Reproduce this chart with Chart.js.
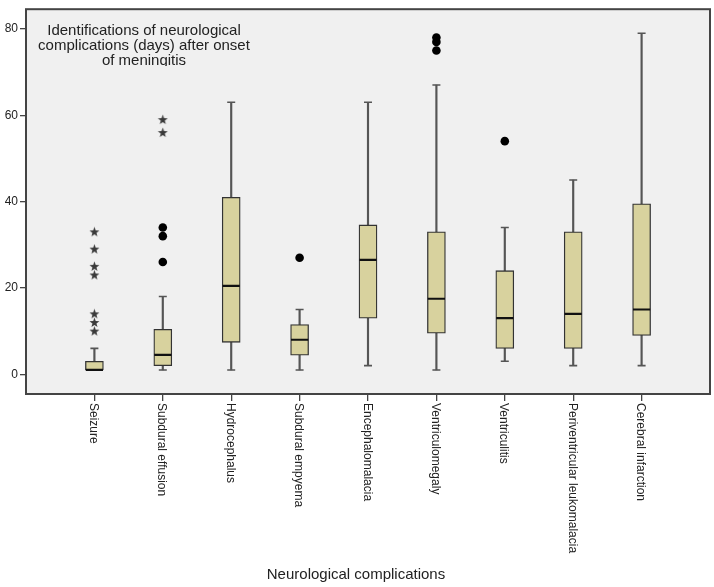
<!DOCTYPE html>
<html lang="en">
<head>
    <meta charset="UTF-8">
    <title>Neurological complications</title>
    <script src="https://cdn.jsdelivr.net/npm/chart.js"></script>
    <style>
        html, body { margin: 0; padding: 0; background: #fff; }
        #wrap { width: 714px; height: 587px; }
    </style>
</head>
<body>
    <div id="wrap"><canvas id="boxChart"></canvas></div>

    <script>
        // data (days)
        const categories = ['Seizure', 'Subdural effusion', 'Hydrocephalus', 'Subdural empyema', 'Encephalomalacia',
            'Ventriculomegaly', 'Ventriculitis', 'Periventricular leukomalacia', 'Cerebral infarction'];
        const whiskerLow = [1, 1, 1, 1, 2, 1, 3, 2, 2];
        const q1 = [1, 2, 7.4, 4.4, 13, 9.5, 6, 6, 9];
        const medians = [1, 4.5, 20.5, 8, 26.5, 17.5, 13, 14, 15];
        const q3 = [3, 10.4, 41, 11.5, 34.6, 33, 24, 33, 39.5];
        const whiskerHigh = [6, 18, 63, 15, 63, 67, 34, 45, 79];
        const outliers = [[], [26, 32, 34], [], [27], [], [75, 77, 78], [54], [], []];
        const extremes = [[10, 12, 14, 23, 25, 29, 33], [56, 59], [], [], [], [], [], [], []];
        const yTicks = [0, 20, 40, 60, 80];
        const titleLines = ['Identifications of neurological', 'complications (days) after onset', 'of meningitis'];
        const axisTitle = 'Neurological complications';

        const FONT = "'Liberation Sans', Arial, sans-serif";

        // small 5 point star used for extreme values
        const star = document.createElement('canvas');
        star.width = 11; star.height = 11;
        (function () {
            const c = star.getContext('2d');
            c.fillStyle = '#3a3a3a';
            c.beginPath();
            for (let i = 0; i < 10; i++) {
                const r = i % 2 === 0 ? 5.2 : 2.1;
                const a = -Math.PI / 2 + i * Math.PI / 5;
                const px = 5.5 + r * Math.cos(a), py = 5.8 + r * Math.sin(a);
                if (i === 0) c.moveTo(px, py); else c.lineTo(px, py);
            }
            c.closePath();
            c.fill();
        })();

        const pos = i => i + 1;
        const caps = [];
        categories.forEach((c, i) => {
            caps.push({ x: pos(i), y: whiskerLow[i] });
            caps.push({ x: pos(i), y: whiskerHigh[i] });
        });
        const circlePts = [];
        outliers.forEach((list, i) => list.forEach(v => circlePts.push({ x: pos(i), y: v })));
        const starPts = [];
        extremes.forEach((list, i) => list.forEach(v => starPts.push({ x: pos(i), y: v })));

        // grey plot background + frame
        const frame = {
            id: 'frame',
            beforeDatasetsDraw(chart) {
                const { ctx, chartArea: a } = chart;
                ctx.save();
                ctx.fillStyle = '#f0f0f0';
                ctx.fillRect(a.left, a.top, a.right - a.left, a.bottom - a.top);
                ctx.restore();
            },
            afterDatasetsDraw(chart) {
                const { ctx, chartArea: a } = chart;
                ctx.save();
                ctx.strokeStyle = '#444';
                ctx.lineWidth = 2;
                ctx.strokeRect(a.left, a.top, a.right - a.left, a.bottom - a.top);
                ctx.restore();
            }
        };

        // rotated category labels (read top to bottom), titles
        const texts = {
            id: 'texts',
            afterDraw(chart) {
                const { ctx } = chart;
                const x = chart.scales.x;
                ctx.save();
                ctx.fillStyle = '#222';
                ctx.font = '12px ' + FONT;
                ctx.textAlign = 'left';
                ctx.textBaseline = 'middle';
                categories.forEach((c, i) => {
                    ctx.save();
                    ctx.translate(x.getPixelForValue(pos(i)) - 1, 403);
                    ctx.rotate(Math.PI / 2);
                    ctx.fillText(c, 0, 0);
                    ctx.restore();
                });
                ctx.font = '15px ' + FONT;
                ctx.textAlign = 'center';
                ctx.fillText(axisTitle, 356, 575);

                ctx.beginPath();
                ctx.rect(30, 6, 300, 60);
                ctx.clip();
                titleLines.forEach((t, k) => ctx.fillText(t, 144, 31 + k * 15));
                ctx.restore();
            }
        };

        new Chart(document.getElementById('boxChart'), {
            type: 'bar',
            data: {
                datasets: [
                    {
                        label: 'whisker',
                        data: categories.map((c, i) => ({ x: pos(i), y: [whiskerLow[i], whiskerHigh[i]] })),
                        backgroundColor: '#555',
                        barThickness: 1.5,
                        grouped: false,
                        order: 6
                    },
                    {
                        label: 'box',
                        data: categories.map((c, i) => ({ x: pos(i), y: [q1[i], q3[i]] })),
                        backgroundColor: '#d8d29e',
                        borderColor: '#333',
                        borderWidth: 1.3,
                        borderSkipped: false,
                        barThickness: 18,
                        grouped: false,
                        order: 5
                    },
                    {
                        type: 'line',
                        label: 'caps',
                        data: caps,
                        showLine: false,
                        pointStyle: 'line',
                        pointRadius: 4,
                        borderColor: '#555',
                        pointBorderWidth: 1.6,
                        order: 4
                    },
                    {
                        type: 'line',
                        label: 'median',
                        data: categories.map((c, i) => ({ x: pos(i), y: medians[i] })),
                        showLine: false,
                        pointStyle: 'line',
                        pointRadius: 8.6,
                        borderColor: '#111',
                        pointBorderWidth: 2.2,
                        order: 3
                    },
                    {
                        type: 'line',
                        label: 'outliers',
                        data: circlePts,
                        showLine: false,
                        pointStyle: 'circle',
                        pointRadius: 4.3,
                        backgroundColor: '#000',
                        borderColor: '#000',
                        pointBorderWidth: 0,
                        order: 2
                    },
                    {
                        type: 'line',
                        label: 'extremes',
                        data: starPts,
                        showLine: false,
                        pointStyle: star,
                        order: 1
                    }
                ]
            },
            plugins: [frame, texts],
            options: {
                responsive: true,
                maintainAspectRatio: false,
                animation: false,
                layout: { autoPadding: false, padding: { top: 4, right: 4, left: 0, bottom: 0 } },
                plugins: { legend: { display: false }, tooltip: { enabled: false } },
                scales: {
                    x: {
                        type: 'linear',
                        min: 0,
                        max: 10,
                        offset: false,
                        afterBuildTicks: axis => { axis.ticks = categories.map((c, i) => ({ value: pos(i) })); },
                        afterFit: axis => { axis.height = 193; },
                        ticks: { display: false },
                        border: { display: false },
                        grid: { offset: false, drawOnChartArea: false, drawTicks: true, tickLength: 7, color: '#444', lineWidth: 1.3 }
                    },
                    y: {
                        min: -4.57,
                        max: 84.57,
                        afterBuildTicks: axis => { axis.ticks = yTicks.map(v => ({ value: v })); },
                        afterFit: axis => { axis.width = 26; },
                        border: { display: false },
                        grid: { drawOnChartArea: false, drawTicks: true, tickLength: 6, color: '#444', lineWidth: 1.3 },
                        ticks: { color: '#222', font: { size: 12, family: FONT }, padding: 2 }
                    }
                }
            }
        });
    </script>
</body>
</html>
